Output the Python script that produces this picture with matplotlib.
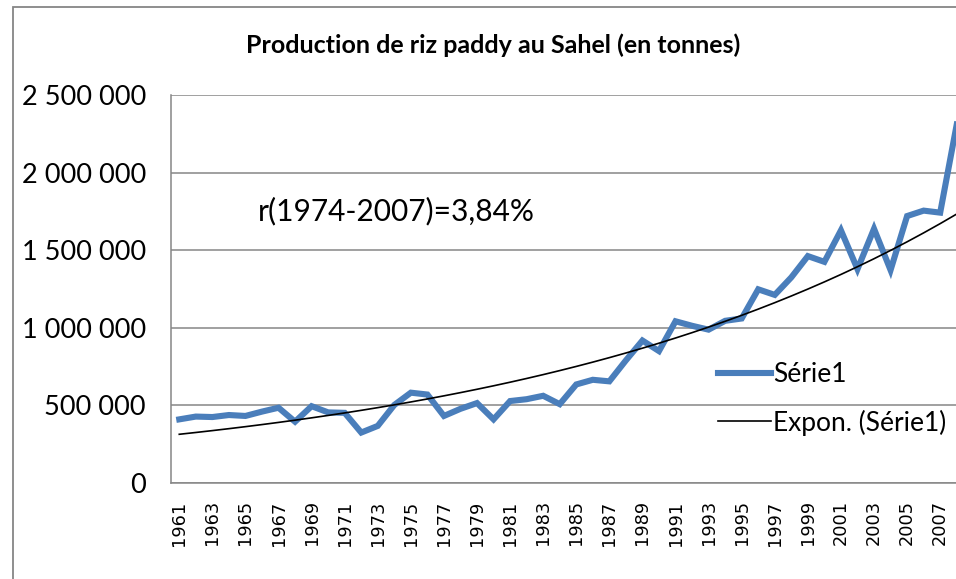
import numpy as np
import matplotlib
matplotlib.use("Agg")
import matplotlib.pyplot as plt
from matplotlib.ticker import FuncFormatter, MultipleLocator
from matplotlib.lines import Line2D
from matplotlib.patches import Rectangle

years = list(range(1961, 2009))
production = [410000, 428000, 425000, 438000, 432000, 460000, 485000, 395000,
              495000, 455000, 452000, 325000, 368000, 503000, 582000, 570000,
              432000, 478000, 515000, 410000, 528000, 540000, 562000, 508000,
              635000, 665000, 655000, 790000, 918000, 850000, 1042000, 1013000,
              988000, 1045000, 1060000, 1248000, 1212000, 1325000, 1462000, 1425000,
              1628000, 1378000, 1638000, 1372000, 1720000, 1755000, 1742000, 2310000]
tick_labels = [str(y) if (y - 1961) % 2 == 0 else "" for y in years]
title = "Production de riz paddy au Sahel (en tonnes)"
annotation = "r(1974-2007)=3,84%"
series_name = "Série1"
trend_name = "Expon. (Série1)"

W, H = 956, 579
fig = plt.figure(figsize=(W / 100, H / 100), dpi=100)
fig.patch.set_facecolor("white")

FONT = "Lato"
GRAY = "#868686"
BLUE = "#4A7EBB"

# plot area in pixel coords
left, right, top, bottom = 171, 965, 95, 483
ax = fig.add_axes([left / W, 1 - bottom / H, (right - left) / W, (bottom - top) / H])

x = np.arange(len(years))
y = np.array(production, dtype=float)
b, a = np.polyfit(x, np.log(y), 1)
trend = np.exp(a + b * x)

ax.plot(x, y, color=BLUE, lw=4.4, solid_joinstyle="miter", zorder=3)
ax.plot(x, trend, color="black", lw=1.2, zorder=4)

ax.set_xlim(-0.5, len(years) - 0.5)
ax.set_ylim(0, 2500000)
ax.yaxis.set_major_locator(MultipleLocator(500000))
ax.yaxis.set_major_formatter(FuncFormatter(lambda v, p: f"{int(v):,}".replace(",", " ")))
ax.set_xticks(x)
ax.set_xticklabels(tick_labels, rotation=90,
                   fontdict={"family": "DejaVu Sans", "size": 12.8})
ax.tick_params(axis="y", length=0, pad=18, labelsize=19.5, labelfontfamily=FONT)
ax.tick_params(axis="x", length=0, pad=12.5)
ax.grid(axis="y", color=GRAY, lw=1.1, zorder=0)
ax.set_axisbelow(True)
for s in ["top", "right"]:
    ax.spines[s].set_visible(False)
for s in ["left", "bottom"]:
    ax.spines[s].set_color(GRAY)
    ax.spines[s].set_linewidth(1.1)

# chart border
fig.patches.append(Rectangle((13 / W, -0.1), 1.2, 1 - 7 / H + 0.1, transform=fig.transFigure,
                             fill=False, edgecolor=GRAY, lw=1.3, zorder=0))

fig.text(493 / W, 1 - 45 / H, title, ha="center", va="center", fontsize=18,
         fontweight="bold", family=FONT)
fig.text(258 / W, 1 - 211 / H, annotation, ha="left", va="center", fontsize=21.5, family=FONT)

handles = [Line2D([], [], color=BLUE, lw=4.4), Line2D([], [], color="black", lw=1.2)]
ax.legend(handles, [series_name, trend_name], loc="upper left",
          bbox_to_anchor=(718 / W, 1 - 362 / H), bbox_transform=fig.transFigure,
          frameon=False, prop={"family": FONT, "size": 19}, handlelength=2.0,
          handletextpad=0.1, labelspacing=0.85, borderpad=0, borderaxespad=0)

fig.savefig("out.png", dpi=100)
